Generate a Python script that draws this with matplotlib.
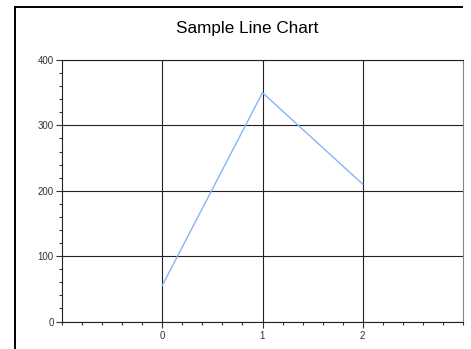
import numpy as np
import matplotlib.pyplot as plt
from matplotlib.lines import Line2D
from matplotlib.ticker import MultipleLocator

# data
x_values = [0, 1, 2]
y_values = [55, 350, 210]
x_major = [0, 1, 2]
x_labels = ['0', '1', '2']
y_major = [0, 100, 200, 300, 400]
title = 'Sample Line Chart'

plt.rcParams['font.family'] = ['Liberation Sans', 'DejaVu Sans']

W, H = 471, 349
fig = plt.figure(figsize=(W / 100, H / 100), dpi=100)

# window frame (left and top edges)
fig.add_artist(Line2D([14.5 / W, 14.5 / W], [0, 1 - 7 / H], color='black', lw=1.4))
fig.add_artist(Line2D([14.5 / W, 462 / W], [1 - 7 / H, 1 - 7 / H], color='black', lw=1.4))

ax = fig.add_axes([62 / W, (H - 321.5) / H, (463 - 62) / W, (321.5 - 60) / H])
ax.plot(x_values, y_values, color='#86b4f5', lw=1)

ax.set_xlim(-1, 3)
ax.set_ylim(0, 400)
ax.set_xticks(x_major)
ax.set_xticklabels(x_labels)
ax.set_yticks(y_major)
ax.xaxis.set_minor_locator(MultipleLocator(0.2))
ax.yaxis.set_minor_locator(MultipleLocator(20))
ax.tick_params(which='major', length=4, width=0.8, labelsize=7, colors='#333333', pad=2)
ax.tick_params(which='minor', length=2.5, width=0.8, colors='#333333')
ax.tick_params(axis='x', which='major', pad=3)
ax.grid(True, which='major', color='#222222', lw=0.8)
for s in ax.spines.values():
    s.set_color('#222222')
    s.set_linewidth(0.8)
ax.spines['right'].set_color('#888888')

fig.text(247 / W, 1 - 28 / H, title, ha='center', va='center', fontsize=12.3)

fig.savefig('out.png', dpi=100)
